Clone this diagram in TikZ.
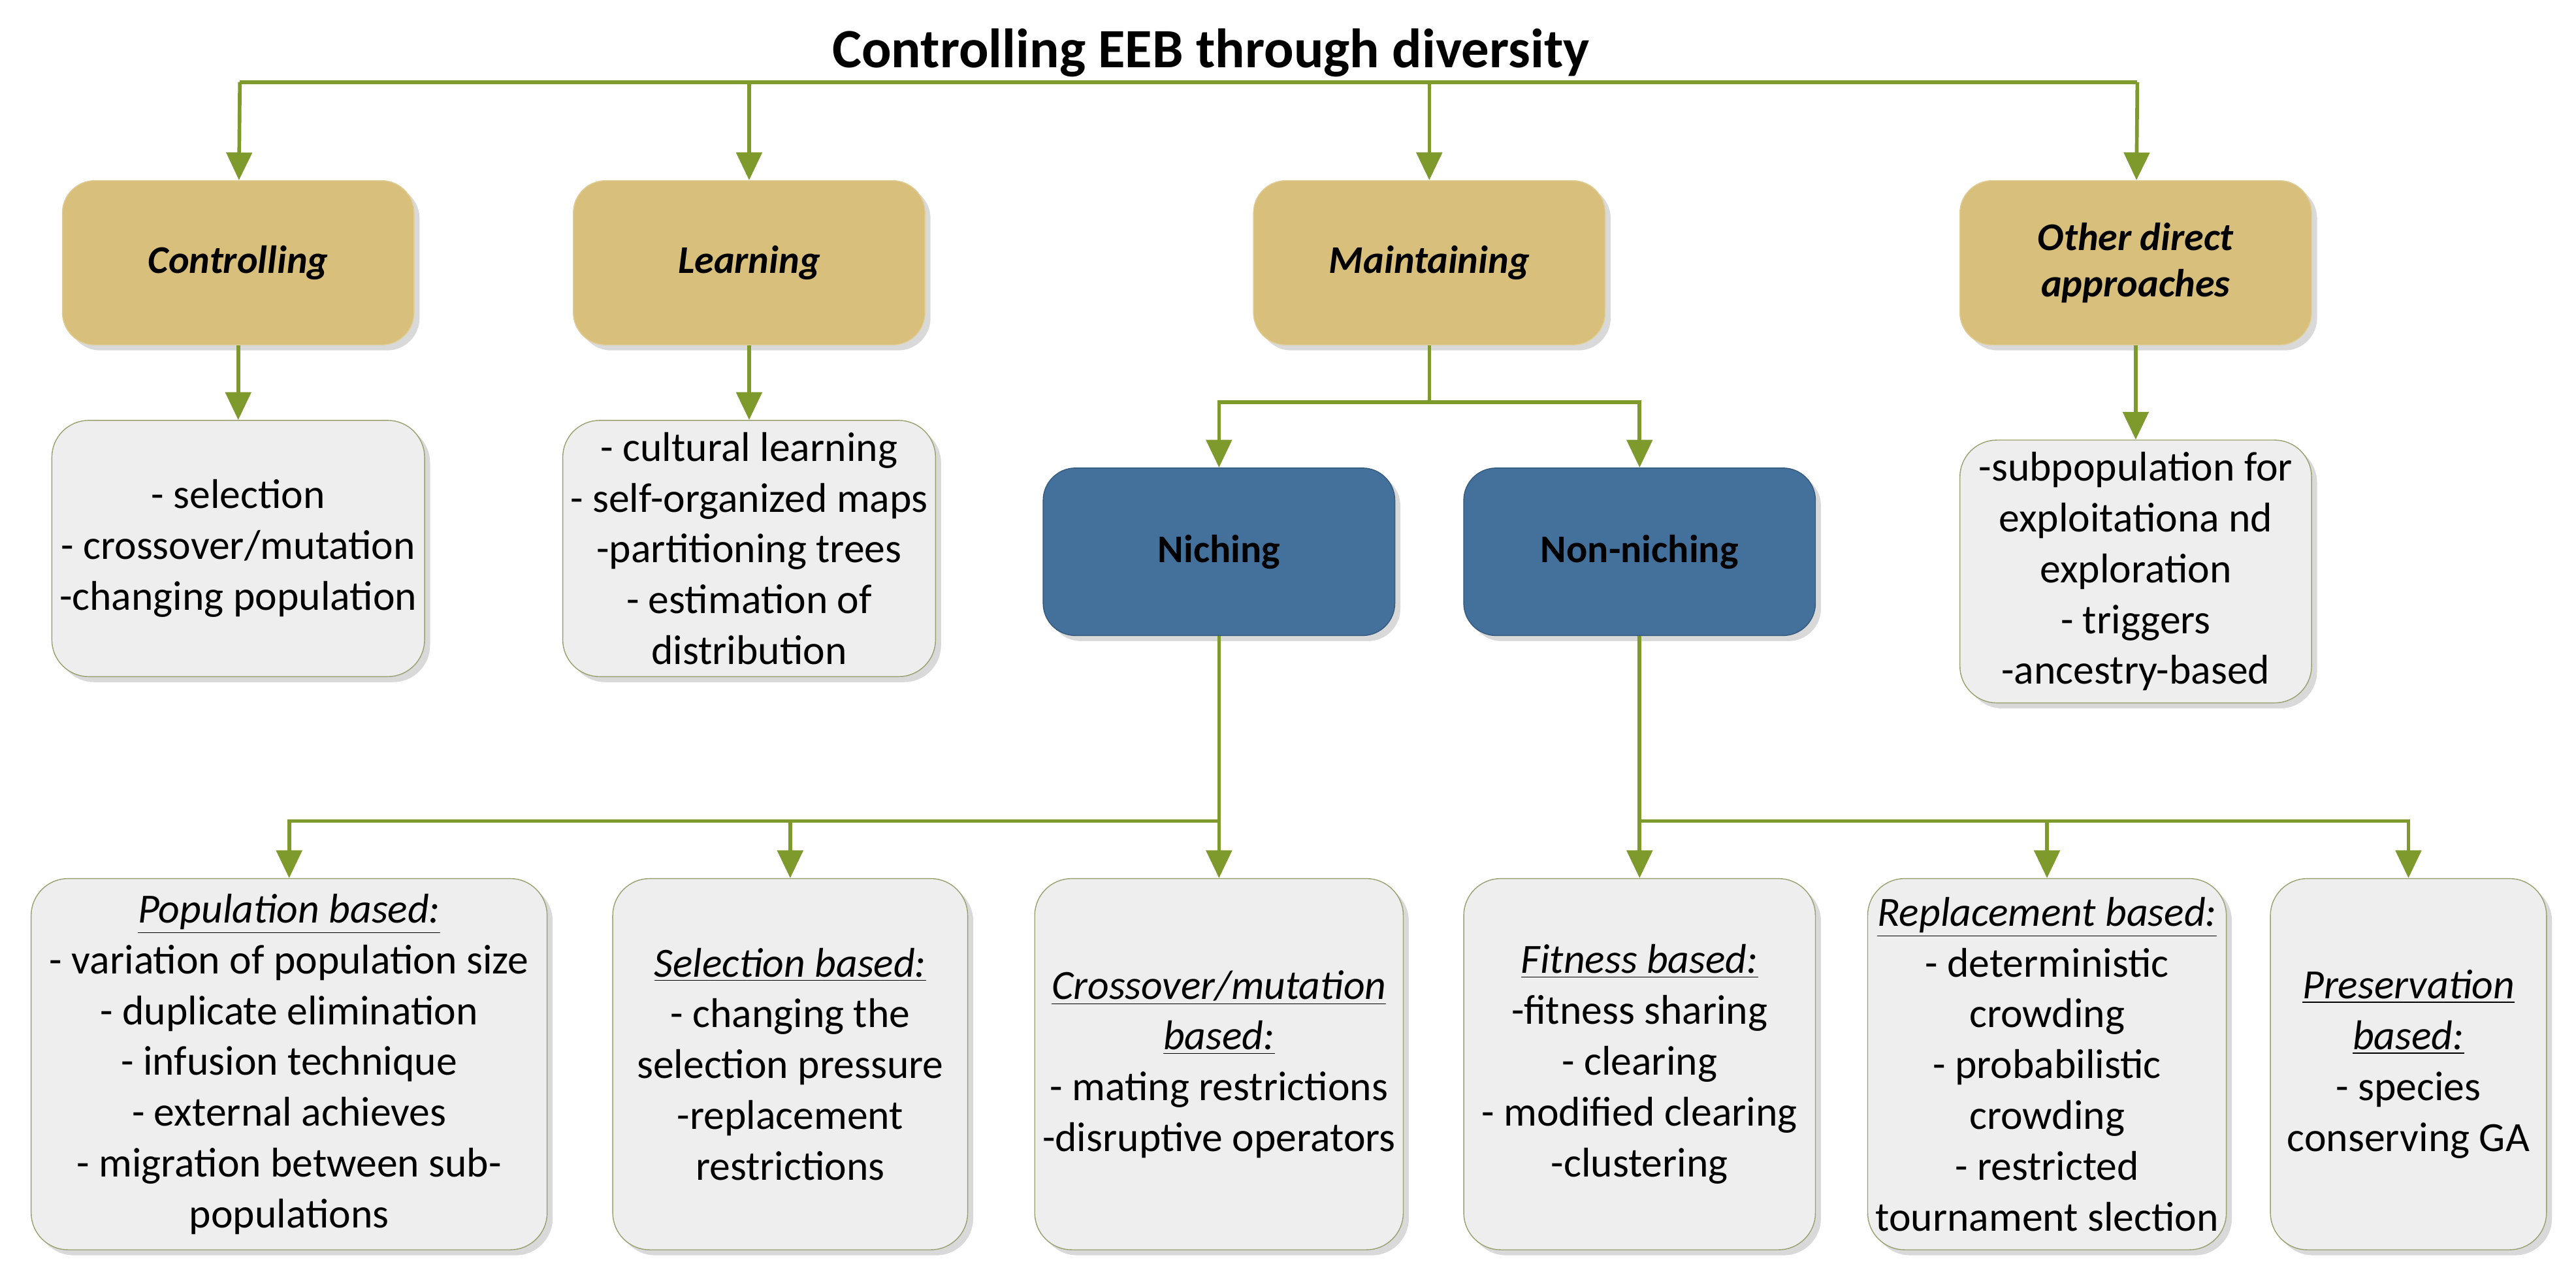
\documentclass[tikz,border=0pt]{standalone}
\usepackage{fontspec}
\setmainfont{Carlito}
\usetikzlibrary{positioning,arrows.meta,shadows}
\definecolor{olivearr}{HTML}{7F9A2C}
\definecolor{goldfill}{HTML}{D8C07C}
\definecolor{bluefill}{HTML}{44709C}
\definecolor{grayfill}{HTML}{EEEEEE}
\definecolor{grayline}{HTML}{9AA070}

\tikzset{
  gold/.style={draw=goldfill!80!white, fill=goldfill, rounded corners=14pt, minimum width=5.35cm, minimum height=2.5cm, font=\fontsize{17}{20}\selectfont\bfseries\itshape, align=center, drop shadow={opacity=0.3}},
  blue/.style={draw=bluefill!80!black, fill=bluefill, rounded corners=14pt, minimum width=5.35cm, minimum height=2.55cm, font=\fontsize{17}{20}\selectfont\bfseries, align=center, drop shadow={opacity=0.3}},
  item/.style={draw=grayline, fill=grayfill, rounded corners=16pt, font=\fontsize{18}{22}\selectfont, align=center, drop shadow={opacity=0.3}},
  arr/.style={-{Triangle[length=12pt,width=11pt]}, olivearr, line width=1.6pt},
  ln/.style={olivearr, line width=1.6pt}
}

\begin{document}
\begin{tikzpicture}[x=0.025cm, y=-0.025cm]
\useasboundingbox (0,0) rectangle (1568,780);
\node (title) at (737,32) {\fontsize{24}{28}\selectfont\bfseries Controlling EEB through diversity};
\coordinate (tl) at (146,50);
\coordinate (tr) at (1301,50);

\node (ctl) at (145,160) [gold] {Controlling};
\node (lrn) at (456,160) [gold] {Learning};
\node (mnt) at (870,160) [gold] {Maintaining};
\node (oth) at (1300,160) [gold] {Other direct\\approaches};

\node (ctlx) at (145,334) [item, minimum width=5.35cm, minimum height=3.9cm] {- selection\\- crossover/mutation\\-changing population};
\node (lrnx) at (456,334) [item, minimum width=5.35cm, minimum height=3.9cm] {- cultural learning\\- self-organized maps\\-partitioning trees\\- estimation of\\distribution};
\node (othx) at (1300,348) [item, minimum width=5.35cm, minimum height=4cm] {-subpopulation for\\exploitationa nd\\exploration\\- triggers\\-ancestry-based};

\node (nic) at (742,336) [blue] {Niching};
\node (non) at (998,336) [blue] {Non-niching};

\node (pop) at (176,648) [item, minimum width=7.85cm, minimum height=5.65cm] {\underline{\itshape Population based:}\\- variation of population size\\- duplicate elimination\\- infusion technique\\- external achieves\\- migration between sub-\\populations};
\node (sel) at (481,648) [item, minimum width=5.4cm, minimum height=5.65cm] {\underline{\itshape Selection based:}\\- changing the\\selection pressure\\-replacement\\restrictions};
\node (crs) at (742,648) [item, minimum width=5.35cm, minimum height=5.65cm] {\underline{\itshape Crossover/mutation}\\\underline{\itshape based:}\\- mating restrictions\\-disruptive operators};
\node (fit) at (998,648) [item, minimum width=5.35cm, minimum height=5.65cm] {\underline{\itshape Fitness based:}\\-fitness sharing\\- clearing\\- modified clearing\\-clustering};
\node (rep) at (1246,648) [item, minimum width=5.35cm, minimum height=5.65cm] {\underline{\itshape Replacement based:}\\- deterministic\\crowding\\- probabilistic\\crowding\\- restricted\\tournament slection};
\node (prs) at (1466,648) [item, minimum width=4.2cm, minimum height=5.65cm] {\underline{\itshape Preservation}\\\underline{\itshape based:}\\- species\\conserving GA};

% top level
\draw [ln] (tl) -- (tr);
\draw [arr] (tl) -- (ctl);
\draw [arr] (lrn.north |- tl) -- (lrn);
\draw [arr] (mnt.north |- tl) -- (mnt);
\draw [arr] (tr) -- (oth);

\draw [arr] (ctl) -- (ctlx);
\draw [arr] (lrn) -- (lrnx);
\draw [arr] (oth) -- (othx);

% maintaining
\coordinate (mj) at (870,245);
\draw [ln] (mnt) -- (mj);
\draw [arr] (mj) -| (nic);
\draw [arr] (mj) -| (non);

% niching
\coordinate (nj) at (742,500);
\draw [ln] (nic) -- (nj);
\draw [arr] (nj) -| (pop);
\draw [arr] (sel.north |- nj) -- (sel);
\draw [arr] (nj) -- (crs);

% non-niching
\coordinate (oj) at (998,500);
\draw [ln] (non) -- (oj);
\draw [arr] (oj) -- (fit);
\draw [arr] (rep.north |- oj) -- (rep);
\draw [arr] (oj) -| (prs);
\end{tikzpicture}
\end{document}
